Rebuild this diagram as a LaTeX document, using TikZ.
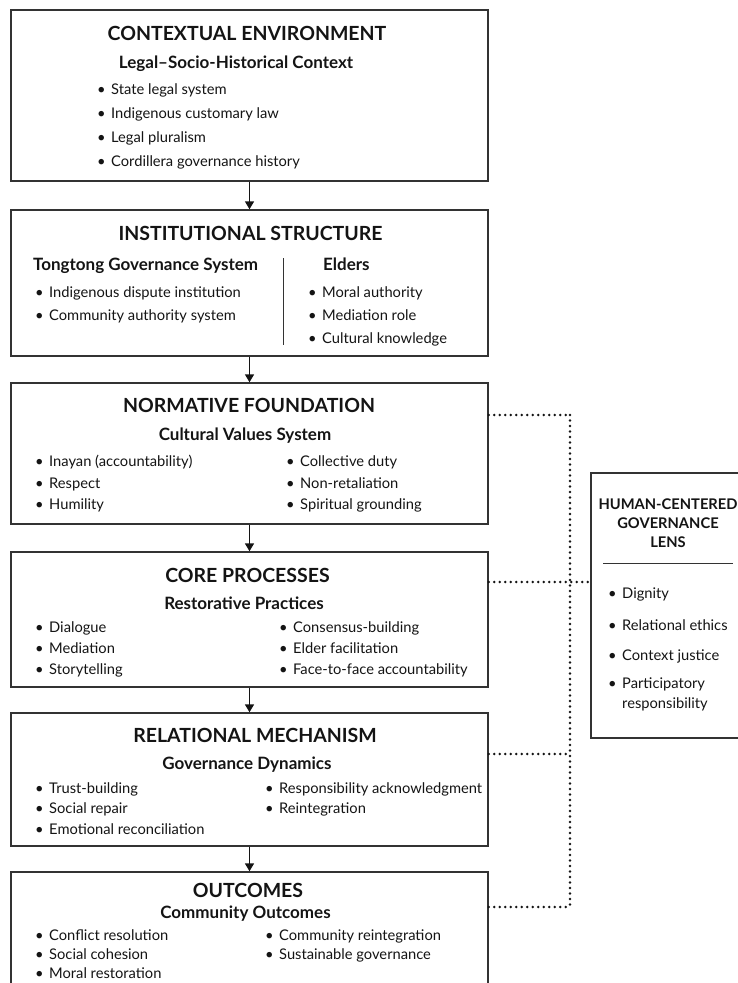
\documentclass[tikz,border=0pt]{standalone}
\usepackage{fontspec}
\setmainfont{Lato}
\usetikzlibrary{arrows.meta}
\definecolor{framegray}{HTML}{333333}
\definecolor{inkblack}{HTML}{141414}
\newcommand{\bul}{\makebox[14pt][l]{\textbullet}}
\begin{document}
\begin{tikzpicture}[x=1pt,y=1pt,
  panel/.style={draw=framegray, line width=1.4pt, minimum width=477pt, inner sep=0pt},
  headline/.style={anchor=base, inner sep=0pt, text=inkblack, font=\fontsize{19.5}{22}\selectfont\bfseries},
  subhead/.style={anchor=base, inner sep=0pt, text=inkblack, font=\fontsize{17}{19}\selectfont\bfseries},
  entry/.style={anchor=base west, inner sep=0pt, text=inkblack, font=\fontsize{14.7}{17}\selectfont},
  flow/.style={-{Triangle[length=8pt,width=9pt]}, line width=1.5pt, draw=inkblack},
  link/.style={line width=2.8pt, line cap=round, dash pattern=on 0pt off 5.5pt, draw=inkblack}]
\useasboundingbox (0,0) rectangle (738,-983);
\clip (0,0) rectangle (738,-983);
\node[panel, minimum height=171pt] (ctx) at (249.5,-95.5) {};
\node[headline] (ctxT) at (247,-40) {CONTEXTUAL ENVIRONMENT};
\node[subhead] (ctxS) at (236,-68) {Legal–Socio-Historical Context};
\node[entry] (ctxA) at (97,-94) {\bul State legal system};
\node[entry] (ctxB) at (97,-118) {\bul Indigenous customary law};
\node[entry] (ctxC) at (97,-142) {\bul Legal pluralism};
\node[entry] (ctxD) at (97,-166) {\bul Cordillera governance history};
\node[panel, minimum height=146pt] (inst) at (249.5,-283) {};
\node[headline] (instT) at (250.5,-240) {INSTITUTIONAL STRUCTURE};
\node[subhead, anchor=base west] (instSL) at (33,-270) {Tongtong Governance System};
\node[subhead, anchor=base west] (instSR) at (323,-270) {Elders};
\draw[framegray, line width=0.9pt] (283,-258) -- (283,-345);
\node[entry] (instA) at (35,-297) {\bul Indigenous dispute institution};
\node[entry] (instB) at (35,-320) {\bul Community authority system};
\node[entry] (instC) at (308,-297) {\bul Moral authority};
\node[entry] (instD) at (308,-320) {\bul Mediation role};
\node[entry] (instE) at (308,-343) {\bul Cultural knowledge};
\node[panel, minimum height=141pt] (norm) at (249.5,-453.5) {};
\node[headline] (normT) at (249,-412) {NORMATIVE FOUNDATION};
\node[subhead] (normS) at (245,-440) {Cultural Values System};
\node[entry] (normA) at (35,-466) {\bul Inayan (accountability)};
\node[entry] (normB) at (35,-488) {\bul Respect};
\node[entry] (normC) at (35,-509) {\bul Humility};
\node[entry] (normD) at (286,-466) {\bul Collective duty};
\node[entry] (normE) at (286,-488) {\bul Non-retaliation};
\node[entry] (normF) at (286,-509) {\bul Spiritual grounding};
\node[panel, minimum height=135pt] (core) at (249.5,-619.5) {};
\node[headline] (coreT) at (247.5,-582) {CORE PROCESSES};
\node[subhead] (coreS) at (244,-609) {Restorative Practices};
\node[entry] (coreA) at (35,-632) {\bul Dialogue};
\node[entry] (coreB) at (35,-653) {\bul Mediation};
\node[entry] (coreC) at (35,-674) {\bul Storytelling};
\node[entry] (coreD) at (279,-632) {\bul Consensus-building};
\node[entry] (coreE) at (279,-653) {\bul Elder facilitation};
\node[entry] (coreF) at (279,-674) {\bul Face-to-face accountability};
\node[panel, minimum height=133pt] (rel) at (249.5,-779.5) {};
\node[headline] (relT) at (255,-742) {RELATIONAL MECHANISM};
\node[subhead] (relS) at (247,-769) {Governance Dynamics};
\node[entry] (relA) at (35,-793) {\bul Trust-building};
\node[entry] (relB) at (35,-813) {\bul Social repair};
\node[entry] (relC) at (35,-834) {\bul Emotional reconciliation};
\node[entry] (relD) at (265,-793) {\bul Responsibility acknowledgment};
\node[entry] (relE) at (265,-813) {\bul Reintegration};
\node[panel, minimum height=128pt] (outc) at (249.5,-936) {};
\node[headline] (outcT) at (248,-897) {OUTCOMES};
\node[subhead] (outcS) at (245.5,-918) {Community Outcomes};
\node[entry] (outcA) at (35,-940) {\bul Conflict resolution};
\node[entry] (outcB) at (35,-959) {\bul Social cohesion};
\node[entry] (outcC) at (35,-978) {\bul Moral restoration};
\node[entry] (outcD) at (265,-940) {\bul Community reintegration};
\node[entry] (outcE) at (265,-959) {\bul Sustainable governance};
\node[panel, minimum width=154pt, minimum height=265pt] (lens) at (668,-605.5) {};
\node[anchor=north, inner sep=0pt, align=center, text=inkblack, font=\fontsize{14.7}{19}\selectfont\bfseries] (lensT) at (668,-499) {HUMAN-CENTERED\\GOVERNANCE\\LENS};
\draw[framegray, line width=1pt] (603,-563) -- (733,-563);
\node[entry] (lensA) at (608,-598) {\bul Dignity};
\node[entry] (lensB) at (608,-630) {\bul Relational ethics};
\node[entry] (lensC) at (608,-660) {\bul Context justice};
\node[entry] (lensD) at (608,-688) {\bul Participatory};
\node[entry] (lensE) at (622,-708) {responsibility};
\draw[flow] (ctx.south) -- (inst.north);
\draw[flow] (inst.south) -- (norm.north);
\draw[flow] (norm.south) -- (core.north);
\draw[flow] (core.south) -- (rel.north);
\draw[flow] (rel.south) -- (outc.north);
\coordinate (j3) at (570,-415);
\coordinate (j4) at (570,-582);
\coordinate (j5) at (570,-754);
\coordinate (j6) at (570,-907);
\draw[link] (norm.east |- j3) -- (j3);
\draw[link] (core.east |- j4) -- (lens.west |- j4);
\draw[link] (rel.east |- j5) -- (j5);
\draw[link] (outc.east |- j6) -- (j6);
\draw[link] (j3) -- (j6);
\end{tikzpicture}
\end{document}
